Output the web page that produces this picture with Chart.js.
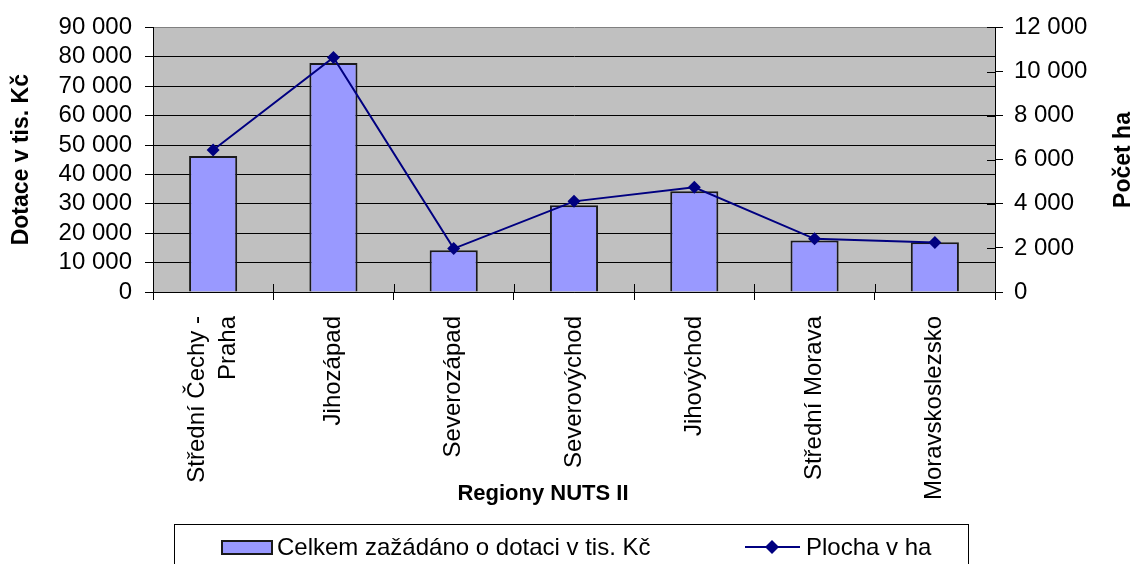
<!DOCTYPE html>
<html><head><meta charset="utf-8">
<script src="https://cdn.jsdelivr.net/npm/chart.js@4.4.0/dist/chart.umd.min.js"></script>
<style>html,body{margin:0;padding:0;background:#fff;}#wrap{width:1134px;height:564px;overflow:hidden;}</style>
</head><body><div id="wrap"><canvas id="c" width="1134" height="564"></canvas></div>
<script>
const categories = [['Střední Čechy -', 'Praha'], 'Jihozápad', 'Severozápad', 'Severovýchod', 'Jihovýchod', 'Střední Morava', 'Moravskoslezsko'];
const dotace = [46300, 77900, 14200, 29500, 34300, 17500, 16900];
const plocha = [6440, 10640, 1970, 4110, 4750, 2410, 2240];
const leftAxis = {min: 0, max: 90000, step: 10000};
const rightAxis = {min: 0, max: 12000, step: 2000};
const barLabel = 'Celkem zažádáno o dotaci v tis. Kč';
const lineLabel = 'Plocha v ha';
const leftTitle = 'Dotace v tis. Kč';
const rightTitle = 'Počet ha';
const xTitle = 'Regiony NUTS II';

const FONT = "'Liberation Sans', Arial, sans-serif";
Chart.defaults.font.family = FONT;
Chart.defaults.color = '#000';
const fmt = v => String(v).replace(/\B(?=(\d{3})+(?!\d))/g, ' ');

const plotBg = {
  id: 'plotBg',
  beforeDraw(chart) {
    const {ctx, chartArea: a} = chart;
    ctx.save();
    ctx.fillStyle = '#C0C0C0';
    ctx.fillRect(a.left, a.top, a.right - a.left, a.bottom - a.top);
    ctx.restore();
  }
};

const extras = {
  id: 'extras',
  afterDraw(chart) {
    const {ctx, chartArea: a} = chart;
    const xs = chart.scales.x, y1 = chart.scales.y1;
    ctx.save();
    // inner tick marks
    ctx.strokeStyle = '#000'; ctx.lineWidth = 1;
    ctx.beginPath();
    y1.ticks.forEach(t => {
      const py = Math.round(y1.getPixelForValue(t.value)) + 0.5;
      ctx.moveTo(a.right - 8, py); ctx.lineTo(a.right, py);
    });
    for (let i = 0; i <= categories.length; i++) {
      const px = Math.round(xs.getPixelForValue(i - 0.5)) + 0.5;
      ctx.moveTo(px, a.bottom - 8); ctx.lineTo(px, a.bottom);
    }
    ctx.stroke();
    // x category labels
    ctx.fillStyle = '#000';
    ctx.font = '24px ' + FONT;
    ctx.textAlign = 'right'; ctx.textBaseline = 'middle';
    const lh = 31;
    categories.forEach((lab, i) => {
      const lines = Array.isArray(lab) ? lab : [lab];
      const px = xs.getPixelForValue(i);
      lines.forEach((ln, j) => {
        const cx = px + (j - (lines.length - 1) / 2) * lh;
        ctx.save();
        ctx.translate(cx, a.bottom + 24);
        ctx.rotate(-Math.PI / 2);
        ctx.fillText(ln, 0, 0);
        ctx.restore();
      });
    });
    // x title
    ctx.font = 'bold 22px ' + FONT;
    ctx.textAlign = 'center';
    ctx.fillText(xTitle, 543, 494);
    // right title
    ctx.save();
    ctx.translate(1124, 160);
    ctx.rotate(-Math.PI / 2);
    ctx.font = 'bold 23px ' + FONT;
    ctx.fillText(rightTitle, 0, 0);
    ctx.restore();
    // legend
    const bar = chart.data.datasets[1], line = chart.data.datasets[0];
    ctx.strokeStyle = '#000'; ctx.lineWidth = 1;
    ctx.strokeRect(174.5, 524.5, 794, 60);
    ctx.fillStyle = bar.backgroundColor;
    ctx.fillRect(222, 541, 50, 13);
    ctx.lineWidth = 2; ctx.strokeStyle = bar.borderColor;
    ctx.strokeRect(222, 541, 50, 13);
    ctx.fillStyle = '#000';
    ctx.font = '24px ' + FONT;
    ctx.textAlign = 'left';
    ctx.fillText(bar.label, 277, 548);
    ctx.strokeStyle = line.borderColor; ctx.lineWidth = 2;
    ctx.beginPath(); ctx.moveTo(745, 547); ctx.lineTo(800, 547); ctx.stroke();
    ctx.fillStyle = line.pointBackgroundColor;
    ctx.beginPath(); ctx.moveTo(772, 540); ctx.lineTo(779, 547); ctx.lineTo(772, 554); ctx.lineTo(765, 547); ctx.closePath(); ctx.fill();
    ctx.fillStyle = '#000';
    ctx.fillText(line.label, 806, 548);
    ctx.restore();
  }
};

new Chart(document.getElementById('c'), {
  data: {
    labels: categories,
    datasets: [
      {
        type: 'line', label: lineLabel, data: plocha, yAxisID: 'y1', order: 0,
        borderColor: '#000080', borderWidth: 2, pointStyle: 'rectRot', pointRadius: 6.5,
        pointBackgroundColor: '#000080', pointBorderColor: '#000080', pointBorderWidth: 0, tension: 0
      },
      {
        type: 'bar', label: barLabel, data: dotace, yAxisID: 'y', order: 1,
        backgroundColor: '#9999FF', borderColor: '#1a1a1a', borderWidth: 2,
        barPercentage: 0.4, categoryPercentage: 1.0
      }
    ]
  },
  options: {
    responsive: false, animation: false, devicePixelRatio: 1,
    layout: {padding: {top: 24, bottom: 0, left: 0, right: 0}},
    plugins: {legend: {display: false}, tooltip: {enabled: false}},
    scales: {
      x: {
        offset: true,
        grid: {offset: true, drawOnChartArea: false, tickLength: 8, color: '#000'},
        border: {color: '#000', width: 1},
        ticks: {display: false, autoSkip: false},
        afterFit: s => { s.height = 272; }
      },
      y: {
        position: 'left', min: leftAxis.min, max: leftAxis.max,
        ticks: {stepSize: leftAxis.step, autoSkip: false, font: {size: 24}, padding: 13, callback: v => fmt(v)},
        grid: {color: c => (c.tick && c.tick.value === leftAxis.max) ? '#808080' : '#000', tickColor: '#000', tickLength: 8, lineWidth: 1},
        border: {color: '#000', width: 1},
        title: {display: true, text: leftTitle, font: {size: 23, weight: 'bold'}, padding: {top: 8, bottom: 0}},
        afterFit: s => { s.width = 153; }
      },
      y1: {
        position: 'right', min: rightAxis.min, max: rightAxis.max,
        ticks: {stepSize: rightAxis.step, autoSkip: false, font: {size: 24}, padding: 11, callback: v => fmt(v)},
        grid: {drawOnChartArea: false, color: '#000', tickLength: 8},
        border: {color: '#000', width: 1},
        afterFit: s => { s.width = 139; }
      }
    }
  },
  plugins: [plotBg, extras]
});
</script>
</body></html>
